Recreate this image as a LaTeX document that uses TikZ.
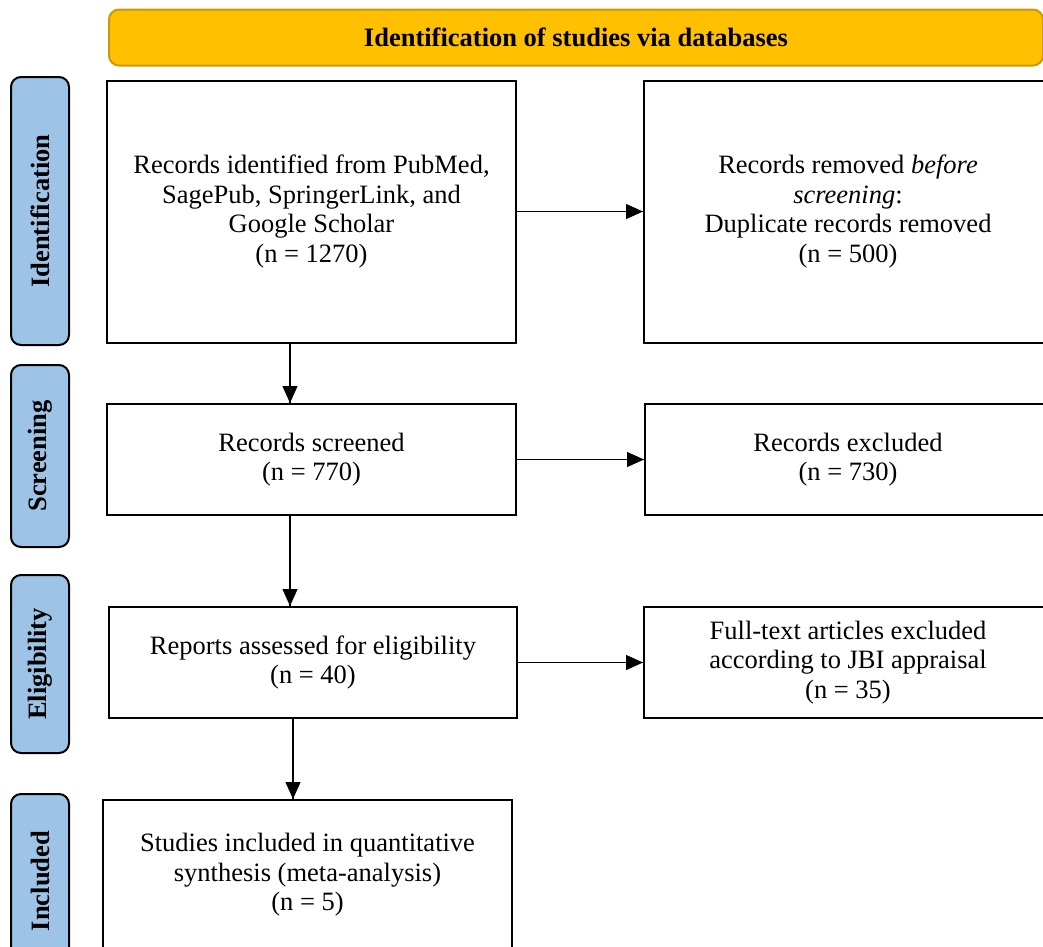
\documentclass[tikz,border=0pt]{standalone}
\usepackage{fontspec}
\setmainfont{Liberation Serif}
\usepackage{tikz}
\usetikzlibrary{arrows}
\usetikzlibrary{arrows.meta}
\usetikzlibrary{decorations.markings}
\usetikzlibrary{positioning}
\definecolor{bannerfill}{HTML}{FFC000}
\definecolor{bannerline}{HTML}{C99A06}
\definecolor{phasefill}{HTML}{9DC3E6}
\tikzset{flow/.style = {line width = 1.2pt,
                        decoration={markings,
                                    mark=at position 1 with {\arrow{Triangle[length=17pt, width=15pt]}}},
                        postaction={decorate}}}
\tikzset{box/.style = {draw, line width = 2pt, rectangle, align = center,
                       font = \fontsize{26.5}{29.5}\selectfont, inner sep = 0}}
\tikzset{phase/.style = {draw, line width = 2pt, fill = phasefill, rounded corners = 10pt,
                         rotate = 90, minimum height = 58pt, inner sep = 0,
                         font = \fontsize{26.5}{29.5}\selectfont\bfseries}}

\begin{document}
\begin{tikzpicture}[x = 1pt, y = -1pt]
      \useasboundingbox (0, 0) rectangle (1043, 946);
      \node [draw = bannerline, line width = 2pt, fill = bannerfill, rounded corners = 10pt,
             minimum width = 934pt, minimum height = 56pt, inner sep = 0,
             font = \fontsize{26.5}{29.5}\selectfont\bfseries] (banner) at (576, 37.5)
            {Identification of studies via databases};
      % phases on the left
      \node [phase, minimum width = 268pt] (phident) at (40, 211) {Identification};
      \node [phase, minimum width = 182pt] (phscreen) at (40, 456) {Screening};
      \node [phase, minimum width = 178pt] (phelig) at (40, 664) {Eligibility};
      \node [phase, minimum width = 174pt] (phincl) at (40, 881) {Included};
      % boxes
      \node [box, minimum width = 409pt, minimum height = 262pt] (ident) at (311.5, 211.5)
            {Records identified from PubMed,\\SagePub, SpringerLink, and\\Google Scholar\\(n = 1270)};
      \node [box, minimum width = 408pt, minimum height = 262pt] (removed) at (848, 211.5)
            {Records removed \textit{before}\\\textit{screening}:\\Duplicate records removed\\(n = 500)};
      \node [box, minimum width = 409pt, minimum height = 111pt] (screened) at (311.5, 459.5)
            {Records screened\\(n = 770)};
      \node [box, minimum width = 406pt, minimum height = 111pt] (excluded) at (848, 459.5)
            {Records excluded\\(n = 730)};
      \node [box, minimum width = 408pt, minimum height = 111pt] (reports) at (313, 662.5)
            {Reports assessed for eligibility\\(n = 40)};
      \node [box, minimum width = 408pt, minimum height = 111pt] (fulltext) at (848, 662.5)
            {Full-text articles excluded\\according to JBI appraisal\\(n = 35)};
      \node [box, minimum width = 409pt, minimum height = 150pt] (studies) at (307.5, 875)
            {Studies included in quantitative\\synthesis (meta-analysis)\\(n = 5)};
      \coordinate (downa) at (290, 0);
      \coordinate (downb) at (293, 0);
      % connectors
      \draw [flow] (ident.east) -- (removed.west);
      \draw [flow] (screened.east) -- (excluded.west);
      \draw [flow] (reports.east) -- (fulltext.west);
      \draw [flow] (ident.south -| downa) -- (screened.north -| downa);
      \draw [flow] (screened.south -| downa) -- (reports.north -| downa);
      \draw [flow] (reports.south -| downb) -- (studies.north -| downb);
    \end{tikzpicture}
\end{document}
